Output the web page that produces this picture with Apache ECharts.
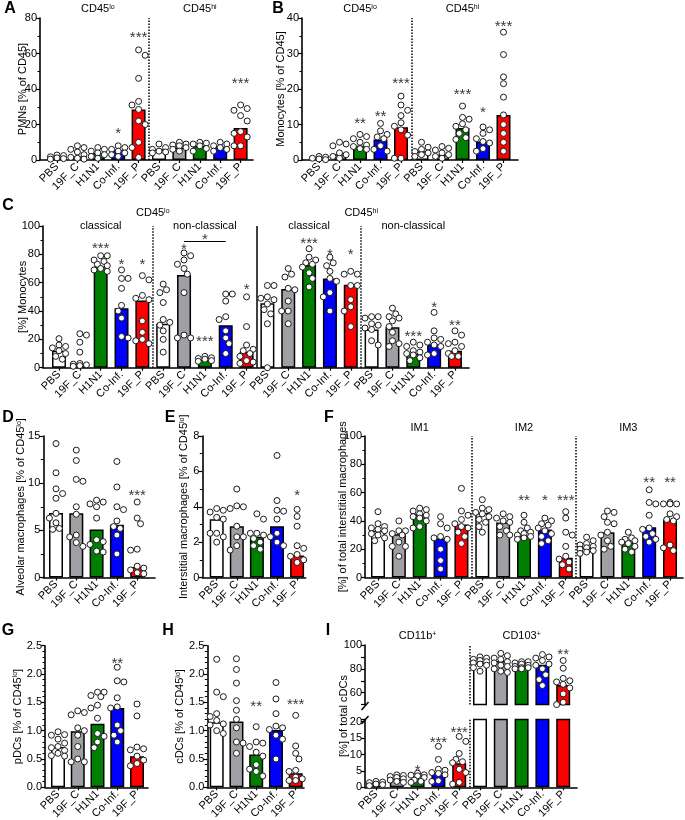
<!DOCTYPE html>
<html><head><meta charset="utf-8">
<script src="https://cdn.jsdelivr.net/npm/echarts@6/dist/echarts.min.js"></script>
<style>html,body{margin:0;padding:0;background:#fff}#c{width:685px;height:820px}</style>
</head><body><div id="c"></div>
<script>
// ---------------- DATA ----------------
const GROUPS = ['PBS', '19F_C', 'H1N1', 'Co-Inf.', '19F_P'];
const CATS10 = GROUPS.concat(GROUPS);
const CATS15 = GROUPS.concat(GROUPS, GROUPS);
const CATS20 = GROUPS.concat(GROUPS, GROUPS, GROUPS);

// A: PMNs [% of CD45]  (CD45lo x5, CD45hi x5)
const A_bars = [1.5, 2, 4, 5.5, 28.5, 6, 7, 8, 7.5, 18];
const A_points = [
  [2.8, 2.5, 1.8, 1.2, 0.8, 0.5],
  [8, 7, 6, 4.5, 3, 1.5, 1, 0.5],
  [7, 6, 5, 4, 3, 2, 1],
  [8, 7, 6, 5, 4, 3, 2],
  [62, 59, 46, 33, 31, 28.5, 22, 20, 10, 7, 1.5],
  [9, 7, 6, 5, 4.5, 4],
  [10, 9, 8.5, 8, 7, 6, 5],
  [10, 9.5, 9, 8, 6.5, 5],
  [10, 9, 8, 7, 6, 5],
  [31, 29, 28, 25, 22, 16, 15, 13, 8, 8]
];
const A_sig = ['', '', '', '*', '***', '', '', '', '', '***'];
const A_sigLevel = [null, null, null, 16.6, 70.6, null, null, null, null, 44.8];

// B: Monocytes [% of CD45]
const B_bars = [0.5, 1.7, 4, 5.8, 9.2, 2.5, 1.5, 9, 5.2, 12.7];
const B_points = [
  [1, 0.8, 0.5, 0.3, 0.1],
  [5, 4.5, 4, 2, 1.5, 1, 0.5],
  [7.2, 6.6, 6, 5, 4.2, 3.8, 3.2, 3],
  [10.3, 8.2, 7.2, 6.5, 6, 4, 3, 2.5],
  [18, 15.5, 14, 12.5, 10.5, 9.5, 8.5, 7, 0.5, 0.5],
  [5, 3.6, 3, 2.4, 2, 1.5, 1],
  [3.8, 3.3, 2.8, 2, 1.5, 1, 0.5],
  [15.2, 12, 11.5, 10.2, 9.5, 8.5, 7.5, 6.3, 5.8],
  [9.3, 8.5, 7.5, 6, 5.2, 4.8, 3.2, 2.5],
  [36, 29.7, 23.4, 21.5, 17.7, 12.7, 10, 7.5, 5, 2.5]
];
const B_sig = ['', '', '**', '**', '***', '', '', '***', '*', '***'];
const B_sigLevel = [null, null, 11.1, 13.2, 22.5, null, null, 19.3, 14.3, 38.4];

// C: [%] Monocytes (CD45lo classical, non-classical, CD45hi classical, non-classical)
const C_bars = [12, 3, 71.5, 42, 47.5, 31, 65.5, 5.5, 30, 11, 45.5, 55.5, 72.5, 63, 58.5, 27, 28.5, 10, 16.5, 12];
const C_points = [
  [20.5, 16, 15, 14, 12, 10, 8, 6],
  [24, 23, 18, 11, 3, 2.5, 2, 1.5, 1],
  [79, 79, 76, 75, 73, 72, 70, 69, 68],
  [69, 63, 63, 56, 44, 40, 35, 22, 21],
  [65, 62, 51, 49, 48, 33, 25, 20, 19, 17],
  [59, 55, 53, 46, 34, 32, 30, 26, 20, 11],
  [81, 79, 76, 73, 70, 66, 53, 23, 21, 21],
  [8, 7, 6.5, 6, 5, 4.5],
  [52, 52, 47, 36, 34, 26, 21, 17, 10],
  [50, 29, 16, 13, 12, 10, 8, 5, 4, 3],
  [58, 58, 50, 49, 48, 45, 41, 38, 31, 0],
  [70, 66, 64, 56, 55, 47, 40, 40, 31],
  [84, 78, 76, 74, 73, 71, 67, 63, 57],
  [78, 74, 72, 68, 63, 61, 53, 50, 40],
  [68, 66, 66, 58, 58, 48, 43, 40, 29],
  [36, 36, 35, 31, 30, 28, 27, 19, 16],
  [42, 38, 36, 35, 33, 29, 25, 19, 17, 15],
  [18, 16, 15, 12, 11, 10, 9, 7, 5],
  [39, 26, 21, 20, 18, 16, 15, 10, 9],
  [26, 23, 18, 17, 15, 12, 10, 8, 8]
];
const C_sig = ['', '', '***', '*', '*', '', '*', '***', '', '*', '', '', '***', '*', '*', '', '', '***', '*', '**'];
const C_sigLevel = [null, null, 86.6, 74.8, 74.8, null, 85.4, 20.7, null, 57.6, null, null, 89.6, 82.4, 81.9, null, null, 24.2, 44.9, 31.8];
const C_brackets = [{ from: 6, to: 8, level: 89.4, label: '*', labelLevel: 92.9 }];

// D: Alveolar macrophages
const D_bars = [6.85, 6.8, 5.1, 5.6, 1.1];
const D_points = [
  [14.2, 11.1, 9.4, 8.9, 8.4, 6.8, 6.3, 5.8, 5.2, 5.1],
  [13.5, 12.4, 10.4, 10.2, 7.5, 6.7, 4.5, 4.3, 3.7, 3.3],
  [8.2, 8.0, 7.8, 7.5, 6.3, 4.0, 3.8, 3.5, 2.8, 2.7],
  [12.3, 9.6, 7.5, 7.2, 6.0, 5.4, 5.2, 4.5, 2.5],
  [8.0, 6.3, 5.7, 3.0, 2.9, 1.2, 1.0, 0.8, 0.5, 0.4]
];
const D_sig = ['', '', '', '', '***'];
const D_sigLevel = [null, null, null, null, 9.0];

// E: Interstitial macrophages
const E_bars = [3.3, 2.9, 2.3, 2.9, 1.25];
const E_points = [
  [3.9, 3.8, 3.7, 3.4, 3.3, 2.5, 2.5, 2.3, 2.0],
  [5.0, 4.05, 4.0, 3.9, 2.9, 2.3, 2.3, 1.8, 1.55],
  [3.6, 3.3, 2.5, 2.5, 2.4, 2.2, 2.0, 1.8, 1.6],
  [6.9, 4.35, 3.8, 3.75, 3.3, 2.5, 2.3, 2.0, 1.8],
  [3.85, 3.45, 2.9, 1.8, 1.65, 1.3, 1.2, 1.0, 0.85]
];
const E_sig = ['', '', '', '', '*'];
const E_sigLevel = [null, null, null, null, 4.8];

// F: [%] of total interstitial macrophages (IM1, IM2, IM3)
const F_bars = [33, 30.5, 45, 27.5, 37.5, 45.5, 38.8, 29.5, 34, 14, 21, 32, 25, 35.5, 41];
const F_points = [
  [46.5, 38, 36, 35, 34, 33, 31, 30, 28, 26],
  [40, 33, 33, 31, 30, 25, 22, 22, 15],
  [49, 48, 47, 45, 44, 43, 42, 40, 36, 35],
  [43, 38, 35, 29, 28, 27, 20, 12, 6],
  [63, 47, 44, 41, 38, 36, 35, 32, 29, 24],
  [55, 49, 48, 46, 45, 43, 41, 39, 36, 32],
  [45, 43, 42, 40, 39, 36, 33, 30, 30],
  [44, 39, 35, 33, 32, 31, 30, 29, 28, 27],
  [42, 40, 38, 37, 35, 33, 31, 29, 26, 24],
  [46.5, 42, 32, 30, 22, 15, 13, 11, 9, 6],
  [28.5, 26, 24, 23, 22, 21, 20, 19, 18, 17],
  [47, 46, 43, 39, 38, 32, 30, 26, 22, 20],
  [32, 28, 27, 26, 25, 24, 22, 20, 18],
  [62, 53, 52, 44, 35, 34, 31, 29, 27, 25],
  [53, 52, 52, 52, 45, 43, 41, 40, 23, 21, 19]
];
const F_sig = ['', '', '', '', '', '', '', '**', '*', '***', '', '', '', '**', '**'];
const F_sigLevel = [null, null, null, null, null, null, null, 56.6, 56.6, 56.6, null, null, null, 69.5, 69.5];

// G: pDCs
const G_bars = [0.71, 0.99, 1.12, 1.4, 0.55];
const G_points = [
  [0.98, 0.93, 0.92, 0.85, 0.78, 0.72, 0.7, 0.65, 0.6, 0.56, 0.55],
  [1.35, 1.32, 1.28, 1.05, 1.0, 0.92, 0.72, 0.5, 0.45, 0.45],
  [1.68, 1.68, 1.62, 1.6, 1.45, 1.4, 1.22, 0.95, 0.9, 0.8, 0.7],
  [2.12, 1.88, 1.86, 1.58, 1.42, 1.4, 1.1, 1.0, 0.92, 0.8],
  [1.47, 1.26, 0.71, 0.68, 0.66, 0.55, 0.48, 0.42, 0.38]
];
const G_sig = ['', '', '', '**', ''];
const G_sigLevel = [null, null, null, 2.25, null];

// H: cDCs
const H_bars = [1.15, 1.16, 0.58, 1.01, 0.25];
const H_points = [
  [2.26, 1.68, 1.6, 1.3, 1.25, 1.18, 1.12, 1.1, 1.0, 0.95],
  [2.27, 2.08, 1.84, 1.53, 1.36, 1.2, 1.05, 0.8, 0.78, 0.6],
  [1.07, 0.8, 0.78, 0.72, 0.62, 0.55, 0.4, 0.32, 0.28, 0.2],
  [1.85, 1.56, 1.3, 1.08, 1.05, 1.02, 0.92, 0.85, 0.5],
  [1.27, 0.73, 0.6, 0.5, 0.3, 0.28, 0.18, 0.15, 0.12, 0.12]
];
const H_sig = ['', '', '**', '', '***'];
const H_sigLevel = [null, null, 1.49, null, 1.51];

// I: [%] of total cDCs (CD11b+ x5, CD103+ x5)
const I_bars = [1.2, 2.6, 2.3, 4.4, 7.3, 85, 86.5, 83, 83.5, 66.5];
const I_points = [
  [1.8, 1.6, 1.4, 1.0, 0.8, 0.5],
  [3.8, 3.6, 3.3, 3.0, 2.6, 2.2, 1.8, 1.5],
  [4.3, 3.8, 3.7, 3.5, 3.0, 2.2, 1.8, 1.5],
  [12.5, 8.5, 5.5, 5.2, 4.5, 4.2, 3.8, 2.0, 1.8],
  [15.5, 14, 10.3, 8.5, 7.8, 7.5, 5.5, 4.5, 1.5, 1.0],
  [90, 89, 88, 87, 86, 85, 84, 83, 81, 78],
  [93, 91, 89, 88, 86, 85, 83, 82, 80, 78, 77],
  [86, 86, 85, 84, 83, 82, 81, 81, 80, 80],
  [92, 90, 89, 87, 84, 83, 80, 75, 71, 66],
  [87, 80.5, 72, 70, 69, 67, 64, 59, 52, 50]
];
const I_sig = ['', '', '*', '***', '***', '', '', '', '', '**'];
const I_sigLevel = [null, null, 6.0, 14.6, 17.8, null, null, null, null, 95];

// ---------------- STYLE / LAYOUT ----------------
const FONT = '"Liberation Sans", Arial, Helvetica, sans-serif';
const FILL = { 'PBS': '#ffffff', '19F_C': '#a0a0a4', 'H1N1': '#008000', 'Co-Inf.': '#0000ff', '19F_P': '#ff0000' };
const SUP = { s: { fontSize: 7, verticalAlign: 'top', fontFamily: FONT, fill: '#000', color: '#000' } };

const option = {
  animation: false, backgroundColor: '#ffffff', textStyle: { fontFamily: FONT },
  grid: [], xAxis: [], yAxis: [], series: [], graphic: []
};

function swarm(vals, pxu, dpx) {
  const size = 6.4, step = 3.3, maxOff = 8;
  const order = vals.map((v, i) => i).sort((a, b) => vals[b] - vals[a]);
  const placed = [];
  const off = new Array(vals.length).fill(0);
  let flip = 1;
  for (const i of order) {
    const y = vals[i] * pxu;
    let best = 0, bestScore = Infinity;
    for (let k = 0; k <= 3; k++) {
      const cands = k === 0 ? [0] : [flip * k * step, -flip * k * step];
      for (const x of cands) {
        if (Math.abs(x) > maxOff) continue;
        let ov = 0;
        for (const q of placed) {
          const dd = Math.hypot(q.x - x, q.y - y);
          if (dd < size) ov += size - dd;
        }
        const score = ov * 10 + Math.abs(x) * 0.1;
        if (score < bestScore - 1e-9) { bestScore = score; best = x; }
      }
    }
    if (best !== 0) flip = -flip;
    placed.push({ x: best, y });
    off[i] = best / dpx;
  }
  return off;
}

function addPanel(p) {
  const gi = option.grid.length;
  const n = p.cats.length;
  const cLast = p.c0 + (n - 1) * p.d;
  const ymin = p.ymin || 0;
  option.grid.push({ left: p.axisX, top: p.yTop, width: p.xEnd - p.axisX, height: p.yBot - p.yTop,
    containLabel: false, outerBoundsMode: 'none' });
  const idx = p.cats.map((_, i) => i);
  const showX = p.showX !== false;
  option.xAxis.push({
    type: 'value', gridIndex: gi,
    min: -(p.c0 - p.axisX) / p.d, max: (n - 1) + (p.xEnd - cLast) / p.d,
    axisLine: { show: showX, onZero: false, lineStyle: { color: '#000', width: 1.6 } },
    axisTick: { show: showX, customValues: idx, length: 3, lineStyle: { color: '#000', width: 1.2 } },
    splitLine: { show: false },
    axisLabel: { show: showX, customValues: idx, rotate: 45, margin: 5, fontSize: 11, color: '#000', fontFamily: FONT,
      formatter: v => { const k = Math.round(v); return (Math.abs(v - k) < 1e-6 && k >= 0 && k < n) ? p.cats[k] : ''; } }
  });
  option.yAxis.push({
    type: 'value', gridIndex: gi, min: ymin, max: p.ymax, interval: p.interval,
    axisLine: { show: true, onZero: false, lineStyle: { color: '#000', width: 1.6 } },
    axisTick: { show: true, length: 4, lineStyle: { color: '#000', width: 1.2 } },
    minorTick: { show: p.minor !== 0, splitNumber: p.minor || 2, length: 2.5, lineStyle: { color: '#000', width: 1 } },
    splitLine: { show: false }, minorSplitLine: { show: false },
    axisLabel: { fontSize: 11, color: '#000', margin: 3, fontFamily: FONT, formatter: p.fmt || (v => String(v)) },
    name: p.name || '', nameLocation: 'middle', nameRotate: 90, nameGap: p.nameGap || 15, nameMoveOverlap: false,
    nameTextStyle: { fontSize: 11, color: '#000', fontFamily: FONT, rich: SUP }
  });

  const pxu = (p.yBot - p.yTop) / (p.ymax - ymin);
  // bars
  const barData = [];
  p.bars.forEach((v, i) => {
    if (v == null || (p.barRange && (i < p.barRange[0] || i > p.barRange[1]))) return;
    barData.push({ value: [i, v], itemStyle: { color: FILL[p.cats[i]] } });
  });
  const seps = (p.seps || []).map(s => ({ xAxis: s.at, lineStyle: { type: s.type || 'dotted', width: s.width || 1.5, color: '#000' } }));
  option.series.push({
    type: 'bar', xAxisIndex: gi, yAxisIndex: gi, barWidth: 14, data: barData, silent: true, z: 2, clip: true,
    itemStyle: { borderColor: '#000', borderWidth: 1.5 },
    markLine: seps.length ? { silent: true, symbol: ['none', 'none'], label: { show: false }, animation: false, data: seps } : undefined
  });
  // points
  const pts = [];
  p.points.forEach((arr, i) => {
    if (p.ptRange && (i < p.ptRange[0] || i > p.ptRange[1])) return;
    const off = swarm(arr, pxu, p.d);
    arr.forEach((v, j) => pts.push([i + off[j], v]));
  });
  option.series.push({
    type: 'scatter', xAxisIndex: gi, yAxisIndex: gi, symbolSize: 6, data: pts, silent: true, z: 5,
    itemStyle: { color: '#ffffff', borderColor: '#1a1a1a', borderWidth: 1, opacity: 1 }
  });
  // significance
  const sig = [];
  p.sig.forEach((s, i) => {
    if (!s || p.sigLevel[i] == null) return;
    if (p.ptRange && (i < p.ptRange[0] || i > p.ptRange[1])) return;
    sig.push({ name: s, value: [i, p.sigLevel[i]] });
  });
  const brLines = [];
  (p.brackets || []).forEach(b => {
    brLines.push([{ coord: [b.from, b.level] }, { coord: [b.to, b.level] }]);
    sig.push({ name: b.label, value: [(b.from + b.to) / 2, b.labelLevel] });
  });
  option.series.push({
    type: 'scatter', xAxisIndex: gi, yAxisIndex: gi, symbolSize: 1, data: sig, silent: true, z: 6,
    itemStyle: { color: 'rgba(0,0,0,0)' },
    label: { show: true, position: 'inside', formatter: '{b}', fontSize: 15, color: '#000', fontFamily: FONT, offset: [0, 3.5] },
    markLine: brLines.length ? { silent: true, symbol: ['none', 'none'], label: { show: false }, animation: false,
      lineStyle: { type: 'solid', width: 1, color: '#000' }, data: brLines } : undefined
  });
  return { c: i => p.c0 + i * p.d };
}

function text(x, y, t, opts) {
  option.graphic.push(Object.assign({
    type: 'text', x: x, y: y, silent: true,
    style: Object.assign({ text: t, fontSize: 11, fontFamily: FONT, fill: '#000', align: 'center', verticalAlign: 'middle', rich: SUP }, opts || {})
  }));
}
function letter(x, y, t) { text(x, y, t, { fontSize: 16, fontWeight: 'bold' }); }

// Panels
const pA = addPanel({ cats: CATS10, bars: A_bars, points: A_points, sig: A_sig, sigLevel: A_sigLevel,
  axisX: 40, c0: 57, d: 20.4, xEnd: 253, yTop: 18, yBot: 160, ymax: 80, interval: 20,
  name: 'PMNs [% of CD45]', nameGap: 12, seps: [{ at: 4.5 }] });
const pB = addPanel({ cats: CATS10, bars: B_bars, points: B_points, sig: B_sig, sigLevel: B_sigLevel,
  axisX: 302, c0: 319, d: 20.5, xEnd: 518, yTop: 18, yBot: 160, ymax: 40, interval: 10,
  name: 'Monocytes [% of CD45]', nameGap: 16, seps: [{ at: 4.5 }] });
const pC = addPanel({ cats: CATS20, bars: C_bars, points: C_points, sig: C_sig, sigLevel: C_sigLevel, brackets: C_brackets,
  axisX: 43, c0: 59, d: 20.84, xEnd: 469, yTop: 226, yBot: 367.7, ymax: 100, interval: 20,
  name: '[%] Monocytes', nameGap: 15, seps: [{ at: 4.5 }, { at: 9.5, type: 'solid', width: 1.5 }, { at: 14.5 }] });
const pD = addPanel({ cats: GROUPS, bars: D_bars, points: D_points, sig: D_sig, sigLevel: D_sigLevel,
  axisX: 43.3, c0: 56, d: 20.3, xEnd: 155, yTop: 436, yBot: 577.5, ymax: 15, interval: 5,
  name: 'Alveolar macrophages [% of CD45{s|lo}]', nameGap: 17 });
const pE = addPanel({ cats: GROUPS, bars: E_bars, points: E_points, sig: E_sig, sigLevel: E_sigLevel,
  axisX: 202.3, c0: 216.7, d: 20.1, xEnd: 305.7, yTop: 436, yBot: 577.5, ymax: 8, interval: 2,
  name: 'Interstitial macrophages [% of CD45{s|lo}]', nameGap: 13 });
const pF = addPanel({ cats: CATS15, bars: F_bars, points: F_points, sig: F_sig, sigLevel: F_sigLevel,
  axisX: 365, c0: 378, d: 20.86, xEnd: 683, yTop: 436, yBot: 577.5, ymax: 100, interval: 20,
  name: '[%] of total interstitial macrophages', nameGap: 17, seps: [{ at: 4.5 }, { at: 9.5 }] });
const fmt1 = v => v.toFixed(1);
const pG = addPanel({ cats: GROUPS, bars: G_bars, points: G_points, sig: G_sig, sigLevel: G_sigLevel,
  axisX: 45, c0: 58, d: 19.75, xEnd: 148, yTop: 645.7, yBot: 787.3, ymax: 2.5, interval: 0.5, fmt: fmt1, minor: 5,
  name: 'pDCs [% of CD45{s|lo}]', nameGap: 22 });
const pH = addPanel({ cats: GROUPS, bars: H_bars, points: H_points, sig: H_sig, sigLevel: H_sigLevel,
  axisX: 207.3, c0: 216.7, d: 19.75, xEnd: 304, yTop: 645.7, yBot: 787.3, ymax: 2.5, interval: 0.5, fmt: fmt1, minor: 5,
  name: 'cDCs [% of CD45{s|lo}]', nameGap: 22 });
const pIb = addPanel({ cats: CATS10, bars: I_bars, points: I_points, sig: I_sig, sigLevel: I_sigLevel, ptRange: [0, 4],
  axisX: 365, c0: 376, d: 20.8, xEnd: 577, yTop: 719.4, yBot: 787.3, ymax: 20.7, interval: 5, minor: 0,
  fmt: v => (Math.abs(v % 5) < 1e-6 ? String(v) : ''), seps: [{ at: 4.5 }] });
const pIt = addPanel({ cats: CATS10, bars: I_bars, points: I_points, sig: I_sig, sigLevel: I_sigLevel, ptRange: [5, 9], barRange: [5, 9],
  axisX: 365, c0: 376, d: 20.8, xEnd: 577, yTop: 645, yBot: 704.6, ymin: 50, ymax: 100, interval: 10, minor: 0, showX: false,
  fmt: v => (Math.round(v) % 20 === 0 ? String(v) : ''), seps: [{ at: 4.5 }] });

// group titles
text(pA.c(2), 9, 'CD45{s|lo}'); text(pA.c(7), 9, 'CD45{s|hi}');
text(pB.c(2), 9, 'CD45{s|lo}'); text(pB.c(7), 9, 'CD45{s|hi}');
text(pC.c(4.5), 213, 'CD45{s|lo}'); text(pC.c(14.5), 213, 'CD45{s|hi}');
text(pC.c(2), 226, 'classical'); text(pC.c(7), 226, 'non-classical');
text(pC.c(12), 226, 'classical'); text(pC.c(17), 226, 'non-classical');
text(pF.c(2), 428, 'IM1'); text(pF.c(7), 428, 'IM2'); text(pF.c(12), 428, 'IM3');
text(pIb.c(2), 636, 'CD11b{s|+}'); text(pIb.c(7), 636, 'CD103{s|+}');
// I axis title spanning the broken axis
option.graphic.push({ type: 'text', x: 344, y: 716, rotation: Math.PI / 2, silent: true,
  style: { text: '[%] of total cDCs', fontSize: 11, fontFamily: FONT, fill: '#000', align: 'center', verticalAlign: 'middle' } });
// axis break marks
option.graphic.push({ type: 'line', silent: true, shape: { x1: 361.5, y1: 710, x2: 368.5, y2: 702 }, style: { stroke: '#000', lineWidth: 1.5 } });
option.graphic.push({ type: 'line', silent: true, shape: { x1: 361.5, y1: 724, x2: 368.5, y2: 716 }, style: { stroke: '#000', lineWidth: 1.5 } });

// panel letters
letter(10, 9, 'A'); letter(278, 9, 'B'); letter(8, 206, 'C');
letter(8, 418, 'D'); letter(170, 418, 'E'); letter(329, 418, 'F');
letter(8, 631, 'G'); letter(168, 631, 'H'); letter(328, 631, 'I');

const chart = echarts.init(document.getElementById('c'), null, { renderer: 'canvas' });
chart.setOption(option);
</script></body></html>
